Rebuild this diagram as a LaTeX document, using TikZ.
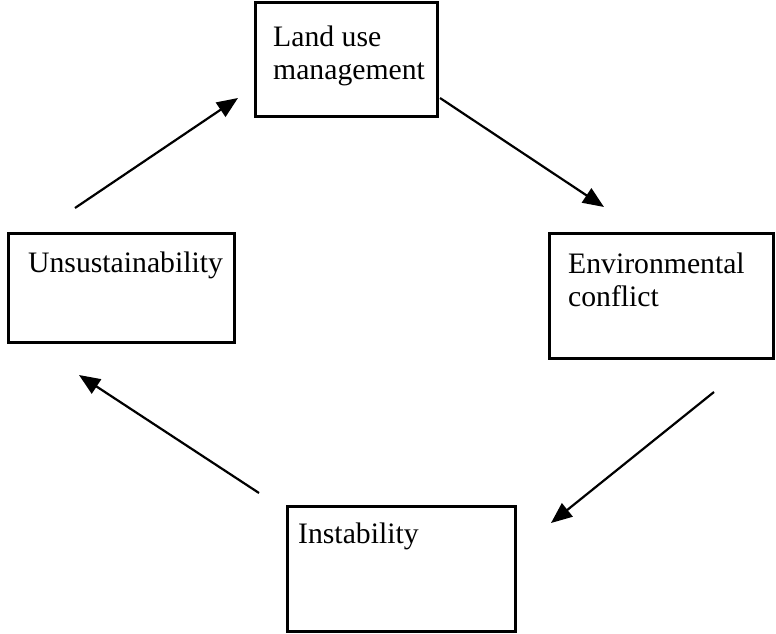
\documentclass[tikz,border=0pt]{standalone}
\usepackage{fontspec}
\setmainfont{Liberation Serif}
\usetikzlibrary{arrows.meta}
\tikzset{
  box/.style={draw=black, line width=3pt, fill=none, inner sep=0pt},
  lbl/.style={anchor=base west, inner sep=0pt, align=left, font=\fontsize{29.7}{33}\selectfont},
  flow/.style={draw=black, line width=2.2pt, -{Triangle[length=21pt,width=17pt]}}
}
\begin{document}
\begin{tikzpicture}[x=1pt,y=-1pt]
\useasboundingbox (0,0) rectangle (776,634);
% boxes
\draw[box] (255,3) rectangle (437,116);
\draw[box] (8,233) rectangle (234,342);
\draw[box] (549,233) rectangle (773,358);
\draw[box] (287,506) rectangle (515,631);
% labels (anchored at the baseline of their last line)
\node[lbl] (tland) at (273,80) {Land use\\management};
\node[lbl] (tuns) at (28,272) {Unsustainability};
\node[lbl] (tenv) at (568,306) {Environmental\\conflict};
\node[lbl] (tins) at (298,543) {Instability};
% arrow ends
\coordinate (a1s) at (75,208);
\coordinate (a1e) at (238,98);
\coordinate (a2s) at (440,98);
\coordinate (a2e) at (604,207);
\coordinate (a3s) at (714,392);
\coordinate (a3e) at (551,523);
\coordinate (a4s) at (259,493);
\coordinate (a4e) at (79,375);
\draw[flow] (a1s) -- (a1e);
\draw[flow] (a2s) -- (a2e);
\draw[flow] (a3s) -- (a3e);
\draw[flow] (a4s) -- (a4e);
\end{tikzpicture}
\end{document}
